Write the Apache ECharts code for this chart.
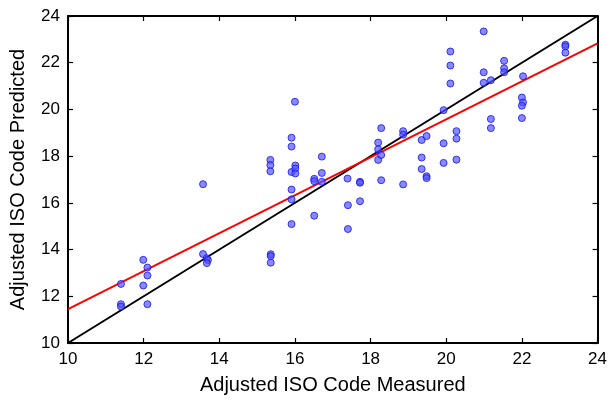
<!DOCTYPE html>
<html>
<head>
<meta charset="utf-8">
<script src="https://cdn.jsdelivr.net/npm/echarts@6/dist/echarts.min.js"></script>
<style>html,body{margin:0;padding:0;background:#fff}#c{width:610px;height:403px}</style>
</head>
<body>
<div id="c"></div>
<script>
// Measured (x) values
var measured = [11.4,11.4,11.4,11.99,11.99,12.1,12.1,12.1,13.57,13.57,13.67,13.7,13.67,
  15.35,15.35,15.35,15.36,15.36,15.36,15.91,15.91,15.91,15.91,15.91,15.91,
  16.0,16.01,16.01,16.01,16.51,16.51,16.51,16.71,16.71,16.71,
  17.39,17.4,17.4,17.72,17.72,17.72,18.2,18.2,18.2,18.28,18.28,18.28,
  18.86,18.86,18.86,19.35,19.35,19.35,19.48,19.48,19.48,19.93,19.93,19.93,
  20.11,20.11,20.11,20.27,20.27,20.27,20.99,20.99,20.99,21.18,21.18,21.18,
  21.53,21.53,21.53,22.03,22.0,22.03,22.0,22.0,23.15,23.15,23.15];
// Predicted (y) values
var predicted = [12.53,11.66,11.56,13.56,12.46,13.23,12.89,11.66,16.8,13.81,13.63,13.55,13.42,
  17.84,17.62,17.35,13.8,13.72,13.44,18.79,18.41,17.32,16.57,16.15,15.09,
  20.33,17.6,17.47,17.26,17.03,16.93,15.45,17.98,17.28,16.9,
  17.04,15.9,14.88,16.9,16.86,16.07,18.58,18.29,17.84,19.2,18.05,16.97,
  19.07,18.92,16.79,18.69,17.94,17.45,18.86,17.14,17.06,19.97,18.55,17.71,
  22.48,21.88,21.11,19.07,18.75,17.85,23.34,21.59,21.14,21.25,19.59,19.2,
  22.08,21.76,21.59,21.42,20.51,20.3,20.16,19.63,22.77,22.7,22.43];
var identityX = [10, 24];
var identityY = [10, 24];
var fitX = [10, 24];
var fitY = [11.45, 22.83];

var pts = measured.map(function(v, i){ return [v, predicted[i]]; });
var idLine = identityX.map(function(v, i){ return [v, identityY[i]]; });
var fitLine = fitX.map(function(v, i){ return [v, fitY[i]]; });

var font = 'Liberation Sans, Arial, Helvetica, sans-serif';
function axisBase(show) {
  return {
    type: 'value', min: 10, max: 24, interval: 2,
    axisLine: { show: true, onZero: false, lineStyle: { color: '#000', width: 2 } },
    axisTick: { show: true, inside: true, length: 5, lineStyle: { color: '#000', width: 1.2 } },
    axisLabel: { show: show, color: '#000', fontSize: 17, fontFamily: font, margin: 8 },
    splitLine: { show: false }
  };
}
var xb = axisBase(true);
xb.name = 'Adjusted ISO Code Measured';
xb.nameLocation = 'middle';
xb.nameGap = 32;
xb.nameTextStyle = { color: '#000', fontSize: 20, fontFamily: font };
var xt = axisBase(false); xt.position = 'top';
var yl = axisBase(true);
yl.name = 'Adjusted ISO Code Predicted';
yl.nameLocation = 'middle';
yl.nameGap = 40;
yl.nameTextStyle = { color: '#000', fontSize: 20, fontFamily: font };
var yr = axisBase(false); yr.position = 'right';

var chart = echarts.init(document.getElementById('c'), null, { renderer: 'canvas' });
chart.setOption({
  animation: false,
  backgroundColor: '#fff',
  grid: { left: 68, right: 10, top: 16, bottom: 60 },
  xAxis: [xb, xt],
  yAxis: [yl, yr],
  series: [
    { type: 'line', data: idLine, showSymbol: false, lineStyle: { color: '#000', width: 2 }, z: 2 },
    { type: 'line', data: fitLine, showSymbol: false, lineStyle: { color: '#ff0000', width: 2 }, z: 2 },
    { type: 'scatter', data: pts, symbol: 'circle', symbolSize: 7,
      itemStyle: { color: 'rgba(80,80,255,0.85)', borderColor: '#1515ee', borderWidth: 1 }, z: 3 }
  ]
});
</script>
</body>
</html>
